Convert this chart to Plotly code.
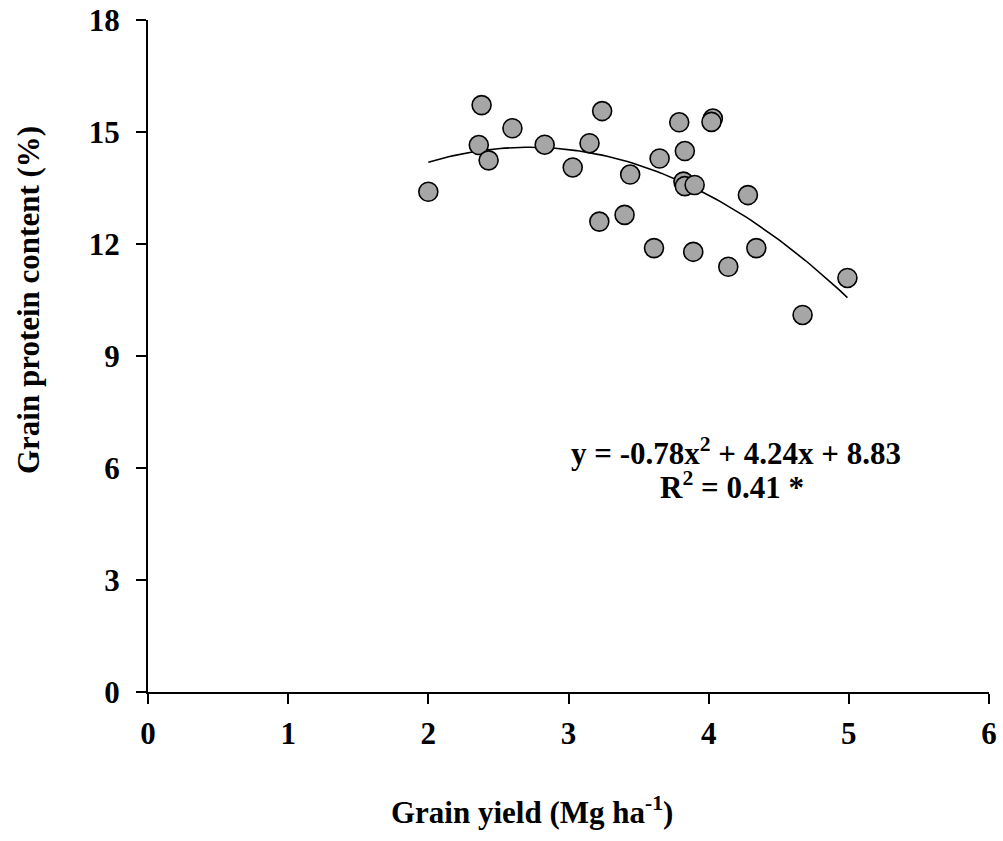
import numpy as np
import plotly.graph_objects as go

grain_yield = [2.00, 2.38, 2.36, 2.43, 2.60, 2.83, 3.03, 3.15, 3.24, 3.22, 3.40, 3.44, 3.65, 3.61,
               3.79, 3.83, 3.82, 3.83, 3.90, 3.89, 4.03, 4.02, 4.28, 4.14, 4.34, 4.99, 4.67]
protein = [13.40, 15.72, 14.65, 14.24, 15.10, 14.66, 14.05, 14.70, 15.56, 12.60, 12.78, 13.86, 14.29, 11.89,
           15.26, 14.49, 13.67, 13.55, 13.58, 11.79, 15.36, 15.27, 13.31, 11.39, 11.89, 11.09, 10.10]
fit_coef = [-0.78, 4.24, 8.83]
fit_range = [2.0, 4.99]
x_ticks = [0, 1, 2, 3, 4, 5, 6]
y_ticks = [0, 3, 6, 9, 12, 15, 18]

FONT = "Liberation Serif"
FS = 31
fx = np.linspace(fit_range[0], fit_range[1], 100)
fy = np.polyval(fit_coef, fx)

L, R, T, B = 148, 989, 20, 692
PW, PH = R - L, B - T

fig = go.Figure()
fig.add_trace(go.Scatter(x=fx, y=fy, mode="lines", line=dict(color="black", width=1.6),
                         hoverinfo="skip", showlegend=False))
fig.add_trace(go.Scatter(x=grain_yield, y=protein, mode="markers",
                         marker=dict(size=19, color="#A6A6A6", line=dict(color="black", width=1.6)),
                         showlegend=False))

tick_font = dict(family=FONT, size=FS, color="black", weight="bold")
fig.update_layout(
    width=1003, height=841,
    margin=dict(l=L, r=1003 - R, t=T, b=841 - B),
    plot_bgcolor="white", paper_bgcolor="white",
    font=dict(family=FONT, size=FS, color="black"),
    xaxis=dict(range=[0, 6], tickvals=x_ticks, showgrid=False, zeroline=False,
               showline=True, linecolor="black", linewidth=2, automargin=False,
               ticks="outside", ticklen=10, tickwidth=2, tickcolor="black",
               tickfont=tick_font, ticklabelstandoff=3),
    yaxis=dict(range=[0, 18], tickvals=y_ticks, showgrid=False, zeroline=False,
               showline=True, linecolor="black", linewidth=2, automargin=False,
               ticks="outside", ticklen=10, tickwidth=2, tickcolor="black",
               tickfont=tick_font, ticklabelstandoff=10),
)

def px_x(p):
    return (p - L) / PW

def px_y(p):
    return (B - p) / PH

fig.add_annotation(text="<b>Grain yield (Mg ha<sup>-1</sup>)</b>", xref="paper", yref="paper",
                   x=px_x(532), y=px_y(810), showarrow=False,
                   font=dict(family=FONT, size=FS, color="black"),
                   xanchor="center", yanchor="middle")
fig.add_annotation(text="<b>Grain protein content (%)</b>", xref="paper", yref="paper",
                   x=px_x(28), y=px_y(300), showarrow=False, textangle=-90,
                   font=dict(family=FONT, size=FS, color="black"),
                   xanchor="center", yanchor="middle")
fig.add_annotation(text="<b>y = -0.78x<sup>2</sup> + 4.24x + 8.83</b>",
                   xref="paper", yref="paper", x=px_x(736), y=px_y(451), showarrow=False,
                   font=dict(family=FONT, size=FS, color="black"),
                   xanchor="center", yanchor="middle")
fig.add_annotation(text="<b>R<sup>2</sup> = 0.41 *</b>",
                   xref="paper", yref="paper", x=px_x(732), y=px_y(485), showarrow=False,
                   font=dict(family=FONT, size=FS, color="black"),
                   xanchor="center", yanchor="middle")

fig.write_html("out.html")
